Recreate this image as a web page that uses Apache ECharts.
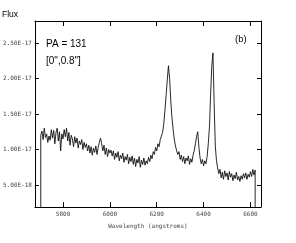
<!DOCTYPE html>
<html><head><meta charset="utf-8">
<script src="https://cdn.jsdelivr.net/npm/echarts@6/dist/echarts.min.js"></script>
<style>html,body{margin:0;padding:0;background:#fff}#c{width:296px;height:243px}</style>
</head><body><div id="c"></div>
<script>
// wavelength (angstroms); first/last entries are the spectrum's drop to zero at its ends
const wavelength = [5705,
5705,5710,5715,5720,5725,5730,5735,5740,5745,5750,5755,5760,5765,5770,5775,5780,5785,5790,5795,5800,
5805,5810,5815,5820,5825,5830,5835,5840,5845,5850,5855,5860,5865,5870,5875,5880,5885,5890,5895,5900,
5905,5910,5915,5920,5925,5930,5935,5940,5945,5950,5955,5960,5965,5970,5975,5980,5985,5990,5995,6000,
6005,6010,6015,6020,6025,6030,6035,6040,6045,6050,6055,6060,6065,6070,6075,6080,6085,6090,6095,6100,
6105,6110,6115,6120,6125,6130,6135,6140,6145,6150,6155,6160,6165,6170,6175,6180,6185,6190,6195,6200,
6205,6210,6215,6220,6225,6230,6235,6240,6245,6250,6255,6260,6265,6270,6275,6280,6285,6290,6295,6300,
6305,6310,6315,6320,6325,6330,6335,6340,6345,6350,6355,6360,6365,6370,6375,6380,6385,6390,6395,6400,
6405,6410,6415,6420,6425,6430,6435,6440,6445,6450,6455,6460,6465,6470,6475,6480,6485,6490,6495,6500,
6505,6510,6515,6520,6525,6530,6535,6540,6545,6550,6555,6560,6565,6570,6575,6580,6585,6590,6595,6600,6605,6610,6615,6620,
6620];
// flux in units of 1E-17
const fluxE17 = [0,
1.20,1.26,1.14,1.30,1.17,1.22,1.10,1.19,1.13,1.28,1.16,1.27,1.08,1.24,1.30,1.12,1.25,0.98,1.22,1.15,
1.28,1.18,1.30,1.12,1.24,1.06,1.20,1.15,1.04,1.18,1.09,1.16,1.02,1.12,1.07,1.14,1.00,1.10,1.03,1.08,
0.98,1.06,0.95,1.04,0.92,1.02,0.96,1.05,0.93,1.03,1.10,1.16,1.08,0.98,1.06,0.93,1.02,0.90,1.00,0.95,
0.99,0.91,0.98,0.86,0.95,0.89,0.97,0.84,0.92,0.87,0.95,0.82,0.90,0.85,0.93,0.80,0.89,0.83,0.91,0.79,
0.88,0.76,0.86,0.81,0.90,0.75,0.85,0.79,0.88,0.78,0.84,0.80,0.89,0.83,0.92,0.87,0.97,0.93,1.03,0.98,
1.08,1.04,1.14,1.12,1.24,1.36,1.55,1.76,1.98,2.18,2.00,1.68,1.45,1.28,1.14,1.05,0.98,0.93,0.97,0.86,
0.92,0.83,0.90,0.80,0.88,0.84,0.91,0.79,0.87,0.82,0.92,0.98,1.08,1.18,1.25,1.03,0.88,0.80,0.86,0.77,
0.84,0.80,0.90,1.08,1.32,1.78,2.18,2.36,1.65,1.05,0.84,0.74,0.66,0.72,0.60,0.68,0.58,0.70,0.62,0.67,
0.57,0.69,0.61,0.66,0.56,0.64,0.59,0.68,0.57,0.62,0.55,0.63,0.58,0.66,0.60,0.67,0.58,0.65,0.61,0.69,0.62,0.72,0.64,0.71,
0];
const xTicks = [5800,6000,6200,6400,6600];
const yTicks = [0.5,1.0,1.5,2.0,2.5];

const data = wavelength.map((w,i)=>[w,fluxE17[i]]);
const chart = echarts.init(document.getElementById('c'), null, {renderer:'canvas'});
const lineCol = '#000';
const tickFont = {fontFamily:'DejaVu Sans Mono', fontSize:6, color:'#444'};
function xAx(pos, labels){
  return {type:'value', min:5680, max:6645, position:pos,
    axisLine:{show:true,onZero:false,lineStyle:{color:lineCol,width:1}},
    axisTick:{show:true,inside:true,length:5,customValues:xTicks,lineStyle:{color:lineCol,width:1}},
    axisLabel:Object.assign({show:labels,customValues:xTicks,margin:4,formatter:v=>String(v)},tickFont),
    splitLine:{show:false}};
}
function yAx(pos, labels){
  return {type:'value', min:0.19, max:2.81, position:pos,
    axisLine:{show:true,onZero:false,lineStyle:{color:lineCol,width:1}},
    axisTick:{show:true,inside:true,length:4,customValues:yTicks,lineStyle:{color:lineCol,width:1}},
    axisLabel:Object.assign({show:labels,customValues:yTicks,margin:3,
      formatter:v=>(v*1e-17).toExponential(2).toUpperCase()},tickFont),
    splitLine:{show:false}};
}
const xb = xAx('bottom', true);
xb.name = 'Wavelength (angstroms)';
xb.nameLocation = 'middle';
xb.nameGap = 16;
xb.nameTextStyle = {fontFamily:'DejaVu Sans Mono', fontSize:6, color:'#444', verticalAlign:'top'};
chart.setOption({
  animation:false,
  backgroundColor:'#fff',
  grid:{left:29, right:35, top:21, bottom:36},
  xAxis:[xb, xAx('top', false)],
  yAxis:[yAx('left', true), yAx('right', false)],
  series:[{type:'line', xAxisIndex:0, yAxisIndex:0, data:data, showSymbol:false, clip:true,
    lineStyle:{color:'#111', width:0.9}}],
  graphic:[
    {type:'text', x:2, y:14.5, style:{text:'Flux', fontFamily:'Liberation Sans', fontSize:8.5, fill:'#000', verticalAlign:'middle'}},
    {type:'text', x:46, y:44, style:{text:'PA = 131', fontFamily:'Liberation Sans', fontSize:10, fill:'#000', verticalAlign:'middle'}},
    {type:'text', x:46, y:61.5, style:{text:'[0",0.8"]', fontFamily:'Liberation Sans', fontSize:10, fill:'#000', verticalAlign:'middle'}},
    {type:'text', x:235, y:39, style:{text:'(b)', fontFamily:'Liberation Sans', fontSize:9.5, fill:'#000', verticalAlign:'middle'}}
  ]
});
</script></body></html>
